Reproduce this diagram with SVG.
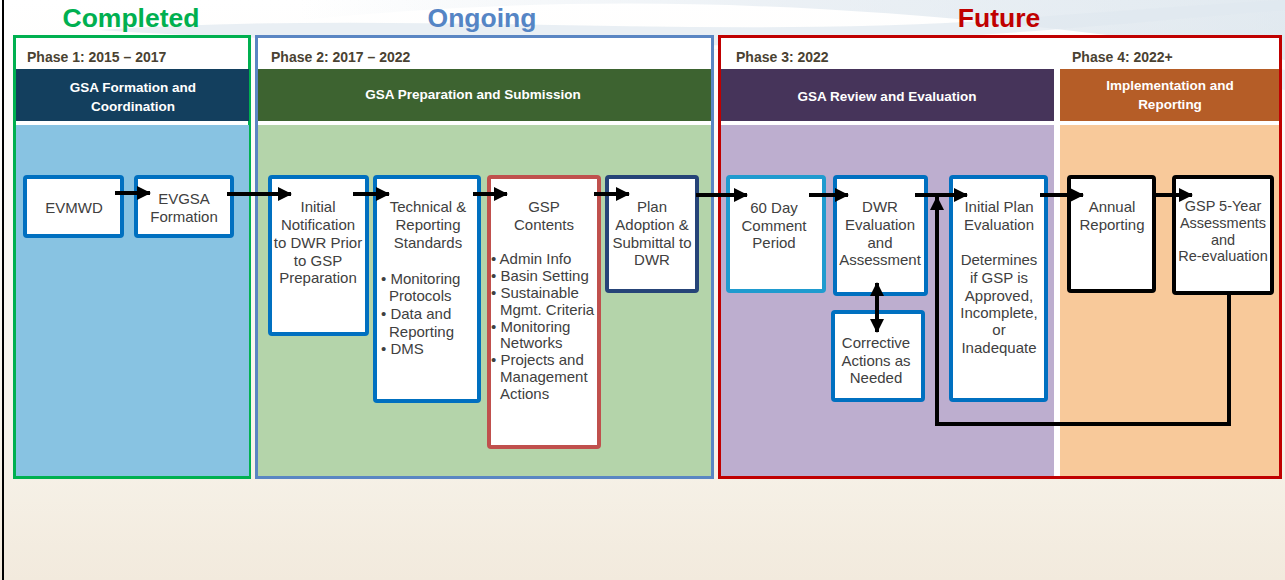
<svg xmlns="http://www.w3.org/2000/svg" width="1285" height="580" viewBox="0 0 1285 580">
<defs>
<linearGradient id="bg" x1="0" y1="0" x2="0" y2="1">
<stop offset="0" stop-color="#ffffff"/>
<stop offset="0.75" stop-color="#f7f3ea"/>
<stop offset="1" stop-color="#f2eadd"/>
</linearGradient>
<linearGradient id="sw" x1="0" y1="0" x2="1" y2="0">
<stop offset="0" stop-color="#d5e0ea" stop-opacity="0"/>
<stop offset="0.5" stop-color="#d5e0ea" stop-opacity="0.8"/>
<stop offset="1" stop-color="#c9d8e4" stop-opacity="0.9"/>
</linearGradient>
<marker id="ah" markerUnits="userSpaceOnUse" markerWidth="14" markerHeight="14" refX="13" refY="7" orient="auto-start-reverse">
<path d="M0,0 L14,7 L0,14 z" fill="#000"/>
</marker>
</defs>
<style>
.phase{font-family:"Liberation Sans",Arial,sans-serif;font-weight:bold;font-size:14px;fill:#4a4232}
.hd{font-family:"Liberation Sans",Arial,sans-serif;font-weight:bold;font-size:13.5px;fill:#fff;text-anchor:middle}
.big{font-family:"Liberation Sans",Arial,sans-serif;font-weight:bold;font-size:26.5px;text-anchor:middle}
.box{fill:#fff;stroke-width:4}
.t{font-family:"Liberation Sans",Arial,sans-serif;font-size:15px;fill:#404040;text-anchor:middle}
.tl{font-family:"Liberation Sans",Arial,sans-serif;font-size:15px;fill:#404040}
.ln{fill:none;stroke:#000;stroke-width:4}
</style>
<rect x="0" y="0" width="1285" height="580" fill="url(#bg)"/>
<path d="M300,20 C600,-10 900,0 1285,60 L1285,0 L300,0 Z" fill="url(#sw)" opacity="0.6"/>
<path d="M100,30 C400,10 700,40 1000,20 C1100,12 1200,5 1285,0 L1285,10 C1150,20 900,50 600,45 C400,42 250,40 100,30 Z" fill="#dfe8ef" opacity="0.7"/>
<path d="M700,50 C850,45 1000,50 1285,90 L1285,70 C1100,40 900,38 700,50 Z" fill="#d8e3ec" opacity="0.6"/>
<line x1="3" y1="0" x2="3" y2="580" stroke="#000" stroke-width="2"/>

<g id="headings">
<text class="big" x="131" y="27" fill="#00b050">Completed</text>
<text class="big" x="482" y="27" fill="#5585c5">Ongoing</text>
<text class="big" x="999" y="27" fill="#c00000">Future</text>
</g>

<g id="phase1">
<rect x="14.5" y="36.5" width="235" height="441" fill="#fff" stroke="#00b050" stroke-width="3"/>
<rect x="16" y="125" width="233" height="351" fill="#88c3e2"/>
<rect x="16" y="69" width="233" height="52" fill="#133f5e"/>
<text class="phase" x="27" y="62">Phase 1: 2015 – 2017</text>
<text class="hd" x="133" y="92">GSA Formation and</text>
<text class="hd" x="133" y="111">Coordination</text>
</g>
<g id="phase2">
<rect x="256.5" y="36.5" width="456" height="441" fill="#fff" stroke="#5a86c3" stroke-width="3"/>
<rect x="258" y="125" width="453" height="351" fill="#b4d4aa"/>
<rect x="258" y="69" width="453" height="52" fill="#3d6330"/>
<text class="phase" x="271" y="62">Phase 2: 2017 – 2022</text>
<text class="hd" x="473" y="99">GSA Preparation and Submission</text>
</g>
<g id="phase34">
<rect x="719.5" y="36.5" width="561" height="441" fill="#fff" stroke="#c00000" stroke-width="3"/>
<rect x="721" y="125" width="333" height="351" fill="#bdaecf"/>
<rect x="721" y="69" width="333" height="52" fill="#46345a"/>
<rect x="1060" y="125" width="219" height="351" fill="#f8c99a"/>
<rect x="1060" y="69" width="219" height="52" fill="#b55d27"/>
<text class="phase" x="736" y="62">Phase 3: 2022</text>
<text class="phase" x="1072" y="62">Phase 4: 2022+</text>
<text class="hd" x="887" y="101">GSA Review and Evaluation</text>
<text class="hd" x="1170" y="90">Implementation and</text>
<text class="hd" x="1170" y="109">Reporting</text>
</g>

<g id="n-evmwd">
<rect class="box" x="25" y="177" width="97" height="59" rx="2" stroke="#0070c0"/>
<text class="t" x="74" y="212.5">EVMWD</text>
</g>
<g id="n-evgsa">
<rect class="box" x="136" y="177" width="96" height="59" rx="2" stroke="#0070c0"/>
<text class="t" x="184" y="204">EVGSA</text>
<text class="t" x="184" y="221.5">Formation</text>
</g>
<g id="n-initial">
<rect class="box" x="270" y="177" width="97" height="157" rx="2" stroke="#0070c0"/>
<text class="t" x="318" y="212">Initial</text>
<text class="t" x="318" y="230">Notification</text>
<text class="t" x="318" y="248">to DWR Prior</text>
<text class="t" x="318" y="266">to GSP</text>
<text class="t" x="318" y="283">Preparation</text>
</g>
<g id="n-technical">
<rect class="box" x="375" y="177" width="104" height="224" rx="2" stroke="#0070c0"/>
<text class="t" x="428" y="212">Technical &amp;</text>
<text class="t" x="428" y="230">Reporting</text>
<text class="t" x="428" y="248">Standards</text>
<text class="tl" x="381" y="284">• Monitoring</text>
<text class="tl" x="389" y="301">Protocols</text>
<text class="tl" x="381" y="319">• Data and</text>
<text class="tl" x="389" y="337">Reporting</text>
<text class="tl" x="381" y="354">• DMS</text>
</g>
<g id="n-gsp">
<rect class="box" x="489" y="177" width="110" height="270" rx="2" stroke="#c0504d"/>
<text class="t" x="544" y="212">GSP</text>
<text class="t" x="544" y="230">Contents</text>
<text class="tl" x="491" y="264">• Admin Info</text>
<text class="tl" x="491" y="281">• Basin Setting</text>
<text class="tl" x="491" y="298">• Sustainable</text>
<text class="tl" x="500" y="315">Mgmt. Criteria</text>
<text class="tl" x="491" y="332">• Monitoring</text>
<text class="tl" x="500" y="348">Networks</text>
<text class="tl" x="491" y="365">• Projects and</text>
<text class="tl" x="500" y="382">Management</text>
<text class="tl" x="500" y="399">Actions</text>
</g>
<g id="n-plan">
<rect class="box" x="607" y="177" width="90" height="114" rx="2" stroke="#264478"/>
<text class="t" x="652" y="212">Plan</text>
<text class="t" x="652" y="230">Adoption &amp;</text>
<text class="t" x="652" y="248">Submittal to</text>
<text class="t" x="652" y="265">DWR</text>
</g>
<g id="n-60day">
<rect class="box" x="728" y="177" width="96" height="114" rx="2" stroke="#1f9bcf"/>
<text class="t" x="774" y="213">60 Day</text>
<text class="t" x="774" y="231">Comment</text>
<text class="t" x="774" y="248">Period</text>
</g>
<g id="n-dwr">
<rect class="box" x="835" y="177" width="91" height="117" rx="2" stroke="#0070c0"/>
<text class="t" x="880" y="212">DWR</text>
<text class="t" x="880" y="230">Evaluation</text>
<text class="t" x="880" y="248">and</text>
<text class="t" x="880" y="265">Assessment</text>
</g>
<g id="n-corrective">
<rect class="box" x="833" y="312" width="90" height="88" rx="2" stroke="#0070c0"/>
<text class="t" x="876" y="348">Corrective</text>
<text class="t" x="876" y="366">Actions as</text>
<text class="t" x="876" y="383">Needed</text>
</g>
<g id="n-initialplan">
<rect class="box" x="951" y="177" width="95" height="223" rx="2" stroke="#0070c0"/>
<text class="t" x="999" y="212">Initial Plan</text>
<text class="t" x="999" y="230">Evaluation</text>
<text class="t" x="999" y="265">Determines</text>
<text class="t" x="999" y="283">if GSP is</text>
<text class="t" x="999" y="301">Approved,</text>
<text class="t" x="999" y="318">Incomplete,</text>
<text class="t" x="999" y="335">or</text>
<text class="t" x="999" y="353">Inadequate</text>
</g>
<g id="n-annual">
<rect class="box" x="1069" y="177" width="85" height="114" rx="2" stroke="#000"/>
<text class="t" x="1112" y="212">Annual</text>
<text class="t" x="1112" y="230">Reporting</text>
</g>
<g id="n-5year">
<rect class="box" x="1174" y="177" width="98" height="116" rx="2" stroke="#000"/>
<text class="t" x="1223" y="211" style="font-size:14.5px">GSP 5-Year</text>
<text class="t" x="1223" y="227.5" style="font-size:14.5px">Assessments</text>
<text class="t" x="1223" y="244.5" style="font-size:14.5px">and</text>
<text class="t" x="1223" y="261" style="font-size:14.5px">Re-evaluation</text>
</g>

<g id="connectors">
<line class="ln" x1="115" y1="193" x2="150" y2="193" marker-end="url(#ah)"/>
<line class="ln" x1="227" y1="194" x2="291" y2="194" marker-end="url(#ah)"/>
<line class="ln" x1="353" y1="194" x2="389" y2="194" marker-end="url(#ah)"/>
<line class="ln" x1="473" y1="194" x2="507" y2="194" marker-end="url(#ah)"/>
<line class="ln" x1="594" y1="194" x2="629" y2="194" marker-end="url(#ah)"/>
<line class="ln" x1="696" y1="195" x2="747" y2="195" marker-end="url(#ah)"/>
<line class="ln" x1="809" y1="195" x2="848" y2="195" marker-end="url(#ah)"/>
<line class="ln" x1="915" y1="195" x2="967" y2="195" marker-end="url(#ah)"/>
<line class="ln" x1="1040" y1="195" x2="1083" y2="195" marker-end="url(#ah)"/>
<line class="ln" x1="1155" y1="195" x2="1192" y2="195" stroke-width="2.5" marker-end="url(#ah)"/>
<polyline class="ln" points="1229,294 1229,424 937,424 937,197" marker-end="url(#ah)"/>
<line class="ln" x1="877" y1="283" x2="877" y2="332" marker-start="url(#ah)" marker-end="url(#ah)"/>
</g>
</svg>
